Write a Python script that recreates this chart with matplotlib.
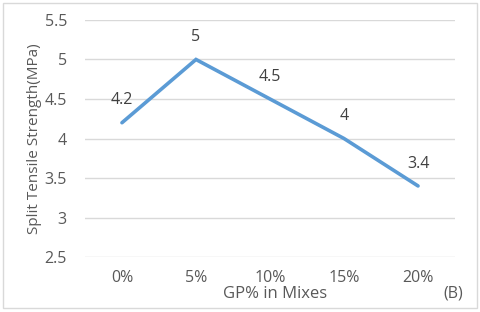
import matplotlib
matplotlib.use("Agg")
import matplotlib.pyplot as plt
from matplotlib.patches import Rectangle

categories = ["0%", "5%", "10%", "15%", "20%"]
strength = [4.2, 5.0, 4.5, 4.0, 3.4]
point_labels = ["4.2", "5", "4.5", "4", "3.4"]
y_ticks = [2.5, 3, 3.5, 4, 4.5, 5, 5.5]

plt.rcParams["font.family"] = ["Open Sans", "DejaVu Sans"]
grey = "#595959"

fig = plt.figure(figsize=(4.8, 3.12), dpi=100)
ax = fig.add_axes([0.177, 0.176, 0.771, 0.760])

x = list(range(len(categories)))
ax.plot(x, strength, color="#5B9BD5", lw=2.6, solid_capstyle="round",
        solid_joinstyle="miter", zorder=3)
for xi, yi, lab in zip(x, strength, point_labels):
    ax.annotate(lab, (xi, yi), xytext=(0, 16), textcoords="offset points",
                ha="center", va="center", fontsize=11.5, color="#404040")

ax.set_xlim(-0.5, 4.5)
ax.set_ylim(2.5, 5.5)
ax.set_yticks(y_ticks)
ax.set_yticklabels([f"{t:g}" for t in y_ticks])
ax.set_xticks(x)
ax.set_xticklabels(categories)
ax.grid(axis="y", color="#d9d9d9", lw=1)
ax.set_axisbelow(True)
for s in ax.spines.values():
    s.set_visible(False)
ax.tick_params(length=0, labelsize=11.5, labelcolor=grey)
ax.tick_params(axis="y", pad=13)
ax.tick_params(axis="x", pad=9)

ax.set_ylabel("Split Tensile Strength(MPa)", fontsize=11, color=grey, labelpad=2)
fig.text(0.573, 0.058, "GP% in Mixes", ha="center", va="center",
         fontsize=12, color=grey)
fig.text(0.945, 0.058, "(B)", ha="center", va="center", fontsize=11.5, color=grey)

fig.patches.append(Rectangle((0.006, 0.012), 0.988, 0.978, transform=fig.transFigure,
                             fill=False, edgecolor="#d9d9d9", lw=1))

fig.savefig("out.png", dpi=100)
